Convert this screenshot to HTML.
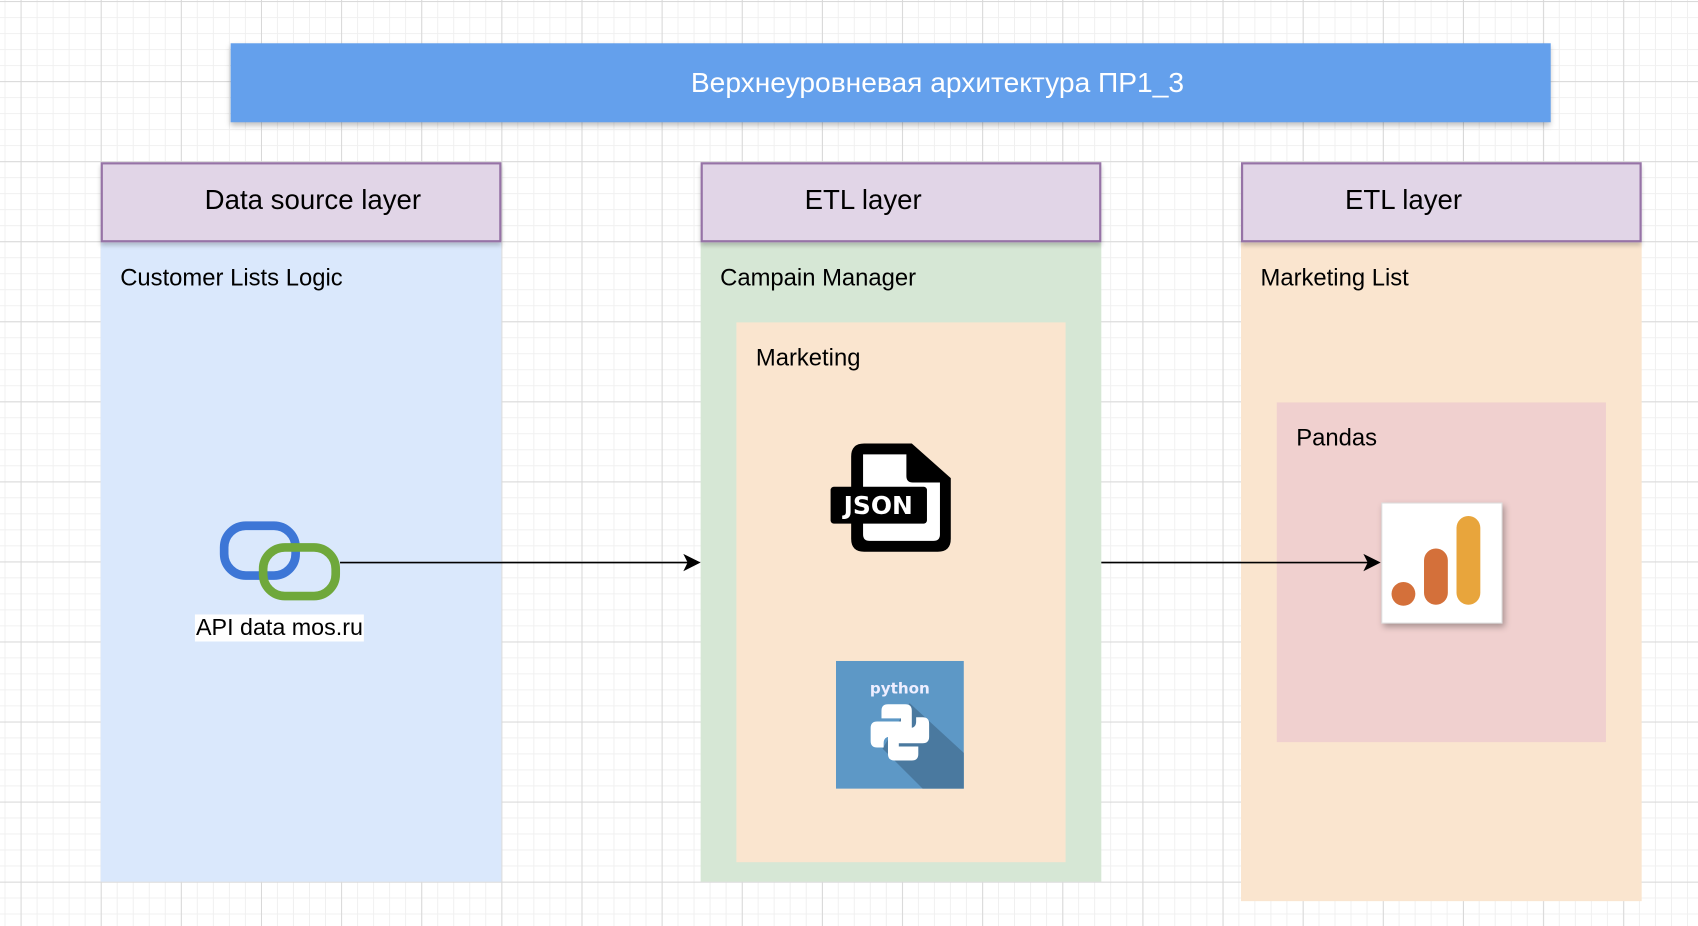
<!DOCTYPE html>
<html><head><meta charset="utf-8"><style>
html,body{margin:0;padding:0;width:1698px;height:926px;overflow:hidden;background:#fff;}
#w{position:absolute;left:0;top:0;width:1568px;height:856px;transform-origin:0 0;transform:scale(1.0829,1.0818);
background-color:#fff;
background-image:linear-gradient(#d8d8d8 1px,transparent 1px),linear-gradient(90deg,#d8d8d8 1px,transparent 1px),linear-gradient(#f0f0f0 1px,transparent 1px),linear-gradient(90deg,#f0f0f0 1px,transparent 1px);
background-size:74px 74px,74px 74px,14.8px 14.8px,14.8px 14.8px;
background-position:0 1px,19px 0,0 1px,19px 0;
font-family:"Liberation Sans",Arial,sans-serif;}
.a{position:absolute;box-sizing:border-box;}
.h{background:#e1d5e7;border:2px solid #9673a6;box-shadow:0 3px 4px rgba(0,0,0,.2);}
.ht{position:absolute;font-size:25.5px;color:#000;white-space:nowrap;top:171px;}
.t{position:absolute;font-size:22px;color:#000;white-space:nowrap;}
</style></head><body><div id="w">
<div class="a" style="left:213px;top:40px;width:1219px;height:73px;background:#64a0ec;box-shadow:0 3px 5px rgba(0,0,0,.25);"></div>
<div class="t" style="left:638px;top:61px;font-size:26px;color:#fff;">Верхнеуровневая архитектура ПР1_3</div>

<div class="a" style="left:93px;top:224px;width:370px;height:591px;background:#dae8fc;"></div>
<div class="a h" style="left:93px;top:150px;width:370px;height:74px;"></div>
<div class="ht" style="left:189px;">Data source layer</div>
<div class="t" style="left:111px;top:244px;">Customer Lists Logic</div>

<div class="a" style="left:647px;top:224px;width:370px;height:591px;background:#d6e7d5;"></div>
<div class="a h" style="left:647px;top:150px;width:370px;height:74px;"></div>
<div class="ht" style="left:743px;">ETL layer</div>
<div class="t" style="left:665px;top:244px;">Campain Manager</div>
<div class="a" style="left:680px;top:298px;width:304px;height:499px;background:#fae5cf;"></div>
<div class="t" style="left:698px;top:318px;">Marketing</div>

<div class="a" style="left:1146px;top:224px;width:370px;height:609px;background:#fae5cf;"></div>
<div class="a h" style="left:1146px;top:150px;width:370px;height:74px;"></div>
<div class="ht" style="left:1242px;">ETL layer</div>
<div class="t" style="left:1164px;top:244px;">Marketing List</div>
<div class="a" style="left:1179px;top:372px;width:304px;height:314px;background:#f0d0cf;"></div>
<div class="t" style="left:1197px;top:392px;">Pandas</div>

<svg class="a" style="left:0;top:0" width="1568" height="856">
<line x1="314" y1="520" x2="640" y2="520" stroke="#000" stroke-width="1.5"/>
<path d="M647 520 L631 512 L635 520 L631 528Z" fill="#000"/>
<line x1="1017" y1="520" x2="1268" y2="520" stroke="#000" stroke-width="1.5"/>
<path d="M1275 520 L1259 512 L1263 520 L1259 528Z" fill="#000"/>
<rect x="207" y="486" width="66" height="46" rx="20" fill="none" stroke="#3d76d6" stroke-width="8"/>
<rect x="243" y="506" width="67" height="45" rx="20" fill="none" stroke="#6fa83b" stroke-width="8"/>
<path d="M795 410 H842 L878 442 V498 Q878 510 866 510 H798 Q786 510 786 498 V422 Q786 410 798 410Z" fill="#000"/>
<path d="M797 420 H837 V440 Q837 446 843 446 H868 V494 Q868 500 862 500 H803 Q797 500 797 494Z" fill="#fff"/>
<rect x="767" y="450" width="89" height="34" rx="3" fill="#000"/>
<text x="811" y="475" font-family="DejaVu Sans,sans-serif" font-weight="bold" font-size="23" fill="#fff" text-anchor="middle">JSON</text>
<rect x="772" y="611" width="118" height="118" fill="#5d98c6"/>
<path d="M840 650 L890 696 V729 H852 L815 692Z" fill="#4a799f"/>
<text x="831" y="641" font-family="DejaVu Sans,sans-serif" font-weight="bold" font-size="14" fill="#eef" text-anchor="middle">python</text>
<path d="M820 651 h16 q6 0 6 6 v18 q0 6 -6 6 h-14 q-6 0 -6 6 v4 h-6 q-6 0 -6 -6 v-12 q0 -6 6 -6 h22 v-3 h-18 v-7 q0 -6 6 -6z" fill="#fff"/>
<path d="M842 703 h-16 q-6 0 -6 -6 v-18 q0 -6 6 -6 h14 q6 0 6 -6 v-4 h6 q6 0 6 6 v12 q0 6 -6 6 h-22 v3 h18 v7 q0 6 -6 6z" fill="#fff"/>
<rect x="1276" y="465" width="111" height="111" fill="#fff" stroke="#ddd" style="filter:drop-shadow(2px 3px 3px rgba(0,0,0,.3))"/>
<rect x="1345" y="477" width="22" height="82" rx="11" fill="#e8a53c"/>
<rect x="1315" y="507" width="22" height="52" rx="11" fill="#d4703a"/>
<circle cx="1296" cy="549" r="11" fill="#d4703a"/>
</svg>
<div class="t" style="left:180px;top:568px;background:#fff;padding:0 1px;font-size:21.5px;">API data mos.ru</div>
</div></body></html>
